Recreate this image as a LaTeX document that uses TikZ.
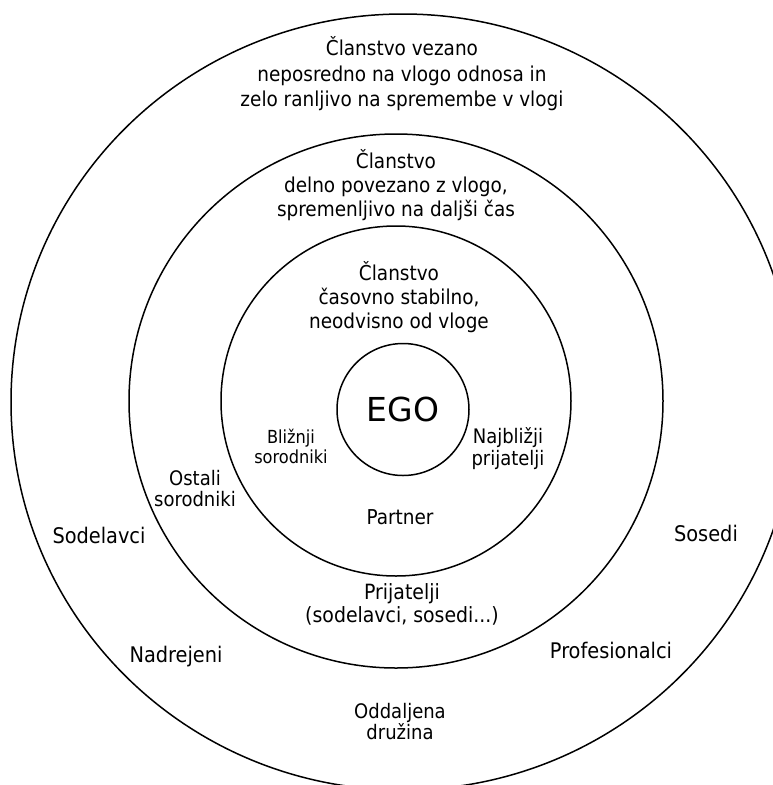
\documentclass[tikz,border=0pt]{standalone}
\usepackage{fontspec}
\setmainfont{DejaVu Sans Condensed}
\newfontfamily\egofont{DejaVu Sans}
\begin{document}
\begin{tikzpicture}[x=1pt,y=-1pt,
  ring/.style={draw=black,line width=1.5pt},
  lbl/.style={font=\fontsize{20.5}{25}\selectfont,align=center,inner sep=0pt},
  small/.style={font=\fontsize{18}{20}\selectfont,align=center,inner sep=0pt}]
\useasboundingbox (0,0) rectangle (773,785);
\clip (0,0) rectangle (773,785);
\fill[white] (0,0) rectangle (773,785);

% concentric rings
\draw[ring] (403,402) ellipse [x radius=392, y radius=388];
\draw[ring] (396,401) circle [radius=267];
\draw[ring] (396,401) circle [radius=175];
\node[ring,circle,minimum size=132pt,inner sep=0pt,
      font=\egofont\fontsize{33}{36}\selectfont] (ego) at (403,409.5) {EGO};

% ring headings
\node[lbl,font=\fontsize{20.5}{25.5}\selectfont] (outerhead) at (402,74)
  {Članstvo vezano\\neposredno na vlogo odnosa in\\zelo ranljivo na spremembe v vlogi};
\node[lbl,font=\fontsize{20.5}{24}\selectfont] (midhead) at (396,185)
  {Članstvo\\delno povezano z vlogo,\\spremenljivo na daljši čas};
\node[lbl,font=\fontsize{20.5}{24}\selectfont] (innerhead) at (399,297)
  {Članstvo\\časovno stabilno,\\neodvisno od vloge};

% inner ring members
\node[small] (blizji) at (291,446) {Bližnji\\sorodniki};
\node[lbl,font=\fontsize{20}{22}\selectfont] (najblizji) at (508,449) {Najbližji\\prijatelji};
\node[lbl] (partner) at (400,517) {Partner};

% middle ring members
\node[lbl,font=\fontsize{20}{21}\selectfont] (ostali) at (195,489) {Ostali\\sorodniki};
\node[lbl,font=\fontsize{21}{23}\selectfont] (prijatelji) at (402,604) {Prijatelji\\(sodelavci, sosedi...)};

% outer ring members
\node[lbl,font=\fontsize{21.5}{24}\selectfont] (sodelavci) at (99,535) {Sodelavci};
\node[lbl,font=\fontsize{21.5}{24}\selectfont] (sosedi) at (706,533) {Sosedi};
\node[lbl,font=\fontsize{21.5}{24}\selectfont] (nadrejeni) at (176,657) {Nadrejeni};
\node[lbl,font=\fontsize{21.5}{24}\selectfont] (profesionalci) at (611,650) {Profesionalci};
\node[lbl,font=\fontsize{20}{21}\selectfont] (oddaljena) at (400,722) {Oddaljena\\družina};
\end{tikzpicture}
\end{document}
